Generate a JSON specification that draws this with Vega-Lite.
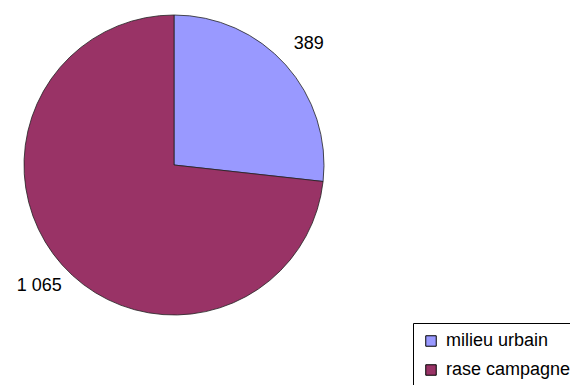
{
  "$schema": "https://vega.github.io/schema/vega-lite/v6.json",
  "width": 348,
  "height": 330,
  "padding": {"left": 0, "top": 0, "right": 222, "bottom": 55},
  "autosize": "none",
  "background": "white",
  "data": {"values": [
    {"cat": "milieu urbain", "value": 389, "label": "389", "ord": 1},
    {"cat": "rase campagne", "value": 1065, "label": "1 065", "ord": 2}
  ]},
  "encoding": {
    "theta": {"field": "value", "type": "quantitative", "stack": true},
    "order": {"field": "ord", "type": "quantitative"}
  },
  "layer": [
    {
      "mark": {"type": "arc", "outerRadius": 150, "stroke": "#222222", "strokeWidth": 0.8},
      "encoding": {
        "color": {
          "field": "cat", "type": "nominal",
          "scale": {"domain": ["milieu urbain", "rase campagne"], "range": ["#9999ff", "#993366"]},
          "legend": {
            "title": null,
            "orient": "none",
            "legendX": 413,
            "legendY": 323,
            "symbolType": "square",
            "symbolSize": 110,
            "symbolStrokeColor": "#000000",
            "symbolStrokeWidth": 1,
            "labelFontSize": 18,
            "labelFont": "Liberation Sans",
            "labelColor": "#000000",
            "labelOffset": 6,
            "rowPadding": 11,
            "padding": 9,
            "strokeColor": "#000000",
            "fillColor": "white"
          }
        }
      }
    },
    {
      "mark": {"type": "text", "radius": 181, "fontSize": 18, "font": "Liberation Sans", "color": "#000000"},
      "encoding": {"text": {"field": "label"}}
    }
  ]
}
